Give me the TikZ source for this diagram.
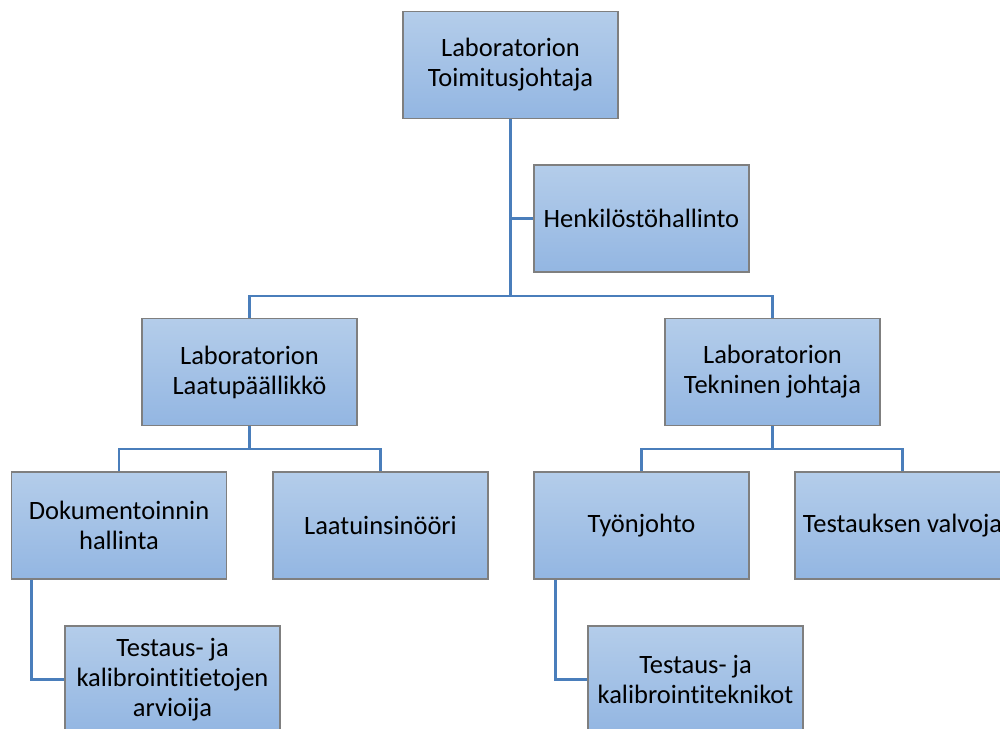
\documentclass[tikz,border=0pt]{standalone}
\usepackage{fontspec}
\setmainfont[Ligatures=NoCommon,Contextuals=NoAlternate]{Carlito}
\definecolor{boxtop}{HTML}{B4CDEA}
\definecolor{boxbot}{HTML}{93B6E2}
\definecolor{boxline}{HTML}{7F7F7F}
\definecolor{conncol}{HTML}{4A7EBB}
\tikzset{
  orgbox/.style={rectangle, draw=boxline, line width=1.3pt, top color=boxtop, bottom color=boxbot,
    minimum width=215pt, minimum height=107pt, inner sep=2pt, align=center,
    font=\fontsize{26.5}{30}\selectfont, text=black},
  conn/.style={draw=conncol, line width=2.8pt}
}
\begin{document}
\begin{tikzpicture}[x=1pt,y=1pt]
\useasboundingbox (0,0) rectangle (1000,-728);
\clip (0,0) rectangle (1000,-728);
\node[orgbox] (top) at (510.5,-65) {Laboratorion\\Toimitusjohtaja};
\node[orgbox] (henk) at (641.5,-218.5) {Henkilöstöhallinto};
\node[orgbox] (laatu) at (249.5,-372) {Laboratorion\\Laatupäällikkö};
\node[orgbox] (tekn) at (772.5,-372) {Laboratorion\\Tekninen johtaja};
\node[orgbox] (dok) at (119,-525.5) {Dokumentoinnin\\hallinta};
\node[orgbox] (lins) at (380.5,-525.5) {Laatuinsinööri};
\node[orgbox] (tyo) at (641.5,-525.5) {Työnjohto};
\node[orgbox] (valv) at (902.5,-525.5) {Testauksen valvoja};
\node[orgbox] (arv) at (172.5,-679.5) {Testaus- ja\\kalibrointitietojen\\arvioija};
\node[orgbox] (tek) at (695.5,-679.5) {Testaus- ja\\kalibrointiteknikot};
\coordinate (j1) at (510.5,-296);
\coordinate (j2) at (249.5,-449);
\coordinate (j3) at (772.5,-449);
\draw[conn] (top.south) |- (henk.west);
\draw[conn] (top.south) -- (j1);
\draw[conn] (laatu.north) |- (j1) -| (tekn.north);
\draw[conn] (laatu.south) -- (j2);
\draw[conn] (dok.north) |- (j2) -| (lins.north);
\draw[conn] (tekn.south) -- (j3);
\draw[conn] (tyo.north) |- (j3) -| (valv.north);
\draw[conn] ([xshift=21pt]dok.south west) |- (arv.west);
\draw[conn] ([xshift=22pt]tyo.south west) |- (tek.west);
\end{tikzpicture}
\end{document}
